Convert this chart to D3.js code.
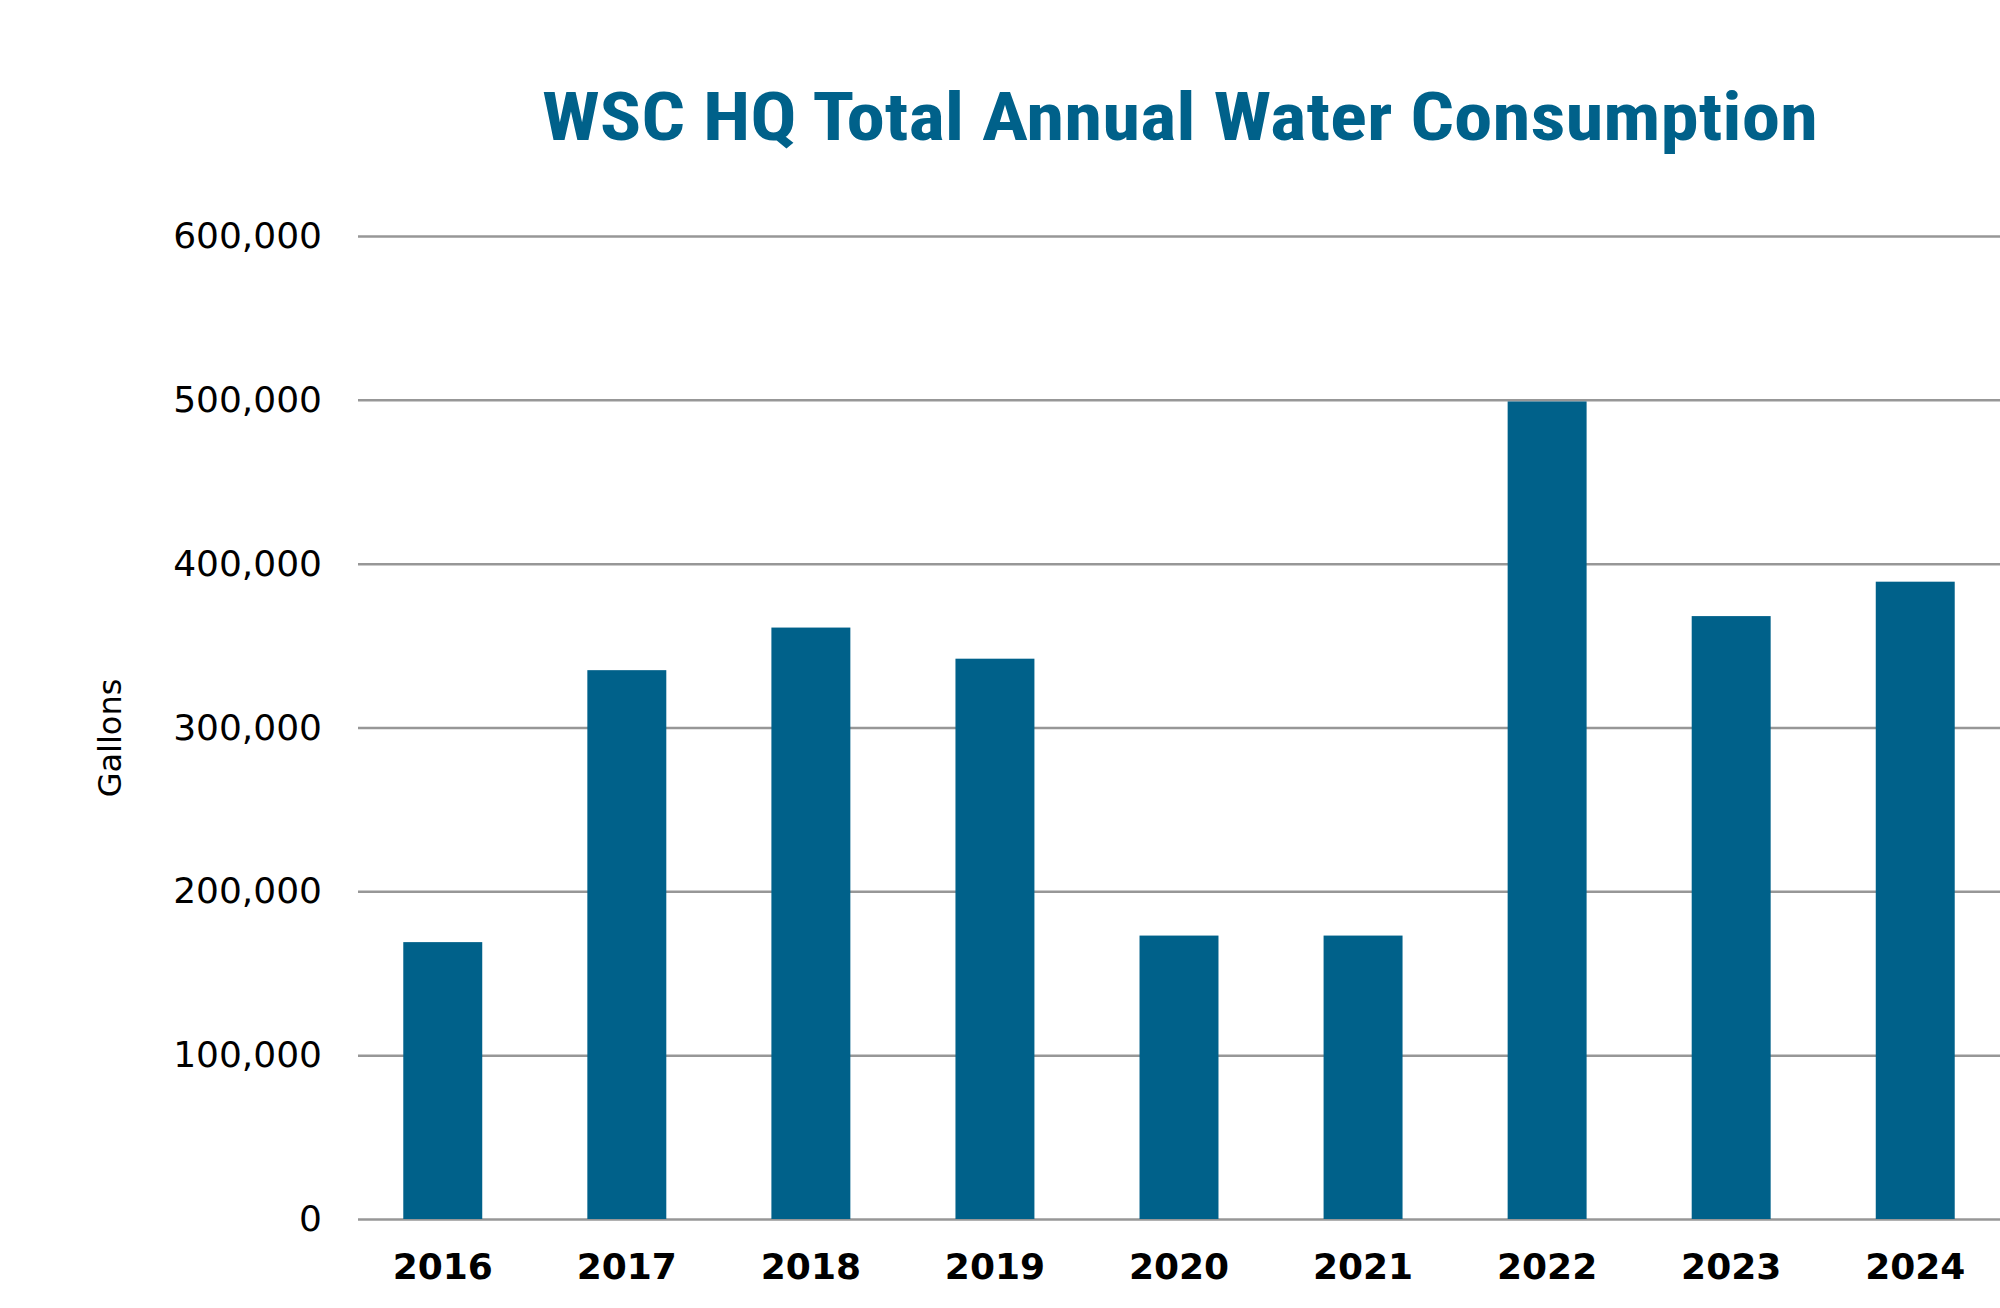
<!DOCTYPE html>
<html>
<head>
<meta charset="utf-8">
<script src="https://cdn.jsdelivr.net/npm/d3@7"></script>
<style>
  body { margin: 0; background: #fff; }
  svg { display: block; }
</style>
</head>
<body>
<svg width="2000" height="1308"></svg>
<script>
// data
var years = ["2016", "2017", "2018", "2019", "2020", "2021", "2022", "2023", "2024"];
var gallons = [169000, 335000, 361000, 342000, 173000, 173000, 499000, 368000, 389000];
var yTicks = [0, 100000, 200000, 300000, 400000, 500000, 600000];

var svg = d3.select("svg"),
  margin = { top: 236, right: 0, bottom: 89, left: 358 },
  width = svg.attr("width") - margin.left - margin.right,
  height = svg.attr("height") - margin.top - margin.bottom;

var barColor = "#00618a";

var x = d3.scaleBand()
  .domain(years)
  .range([0, width])
  .paddingInner(0.571)
  .paddingOuter(0.246);

var y = d3.scaleLinear().domain([0, 600000]).range([height, 0]);

var g = svg.append("g")
  .attr("transform", `translate(${margin.left},${margin.top})`);

// title
svg.append("text")
  .attr("x", 1180)
  .attr("y", 140)
  .attr("text-anchor", "middle")
  .attr("textLength", 1276)
  .attr("lengthAdjust", "spacingAndGlyphs")
  .style("font-family", "'Liberation Sans Narrow', 'Roboto Condensed', 'Liberation Sans', sans-serif")
  .style("font-weight", "bold")
  .style("font-size", "66px")
  .style("fill", barColor)
  .text("WSC HQ Total Annual Water Consumption");

// y axis with gridlines
var yAxis = g.append("g")
  .attr("class", "axis axis--y")
  .call(d3.axisLeft(y).tickValues(yTicks).tickSize(-width).tickPadding(36).tickFormat(d3.format(",")));

yAxis.select(".domain").remove();
yAxis.selectAll("line").attr("stroke", "#979797").attr("stroke-width", 2.5);
yAxis.selectAll("text")
  .style("font-family", "'DejaVu Sans', sans-serif")
  .style("font-size", "36px")
  .style("fill", "#000");

// bars
g.selectAll(".bar")
  .data(gallons)
  .enter().append("rect")
  .attr("class", "bar")
  .attr("x", (d, i) => x(years[i]))
  .attr("y", d => y(d))
  .attr("width", x.bandwidth())
  .attr("height", d => height - y(d))
  .style("fill", barColor);

// x axis labels
var xAxis = g.append("g")
  .attr("class", "axis axis--x")
  .attr("transform", `translate(0,${height})`)
  .call(d3.axisBottom(x).tickSize(0).tickPadding(34));

xAxis.select(".domain").remove();
xAxis.selectAll("text")
  .style("font-family", "'DejaVu Sans', sans-serif")
  .style("font-weight", "bold")
  .style("font-size", "36px")
  .style("fill", "#000");

// y axis title
svg.append("text")
  .attr("transform", "translate(121,738) rotate(-90)")
  .attr("text-anchor", "middle")
  .style("font-family", "'DejaVu Sans', sans-serif")
  .style("font-size", "32px")
  .style("fill", "#000")
  .text("Gallons");
</script>
</body>
</html>
